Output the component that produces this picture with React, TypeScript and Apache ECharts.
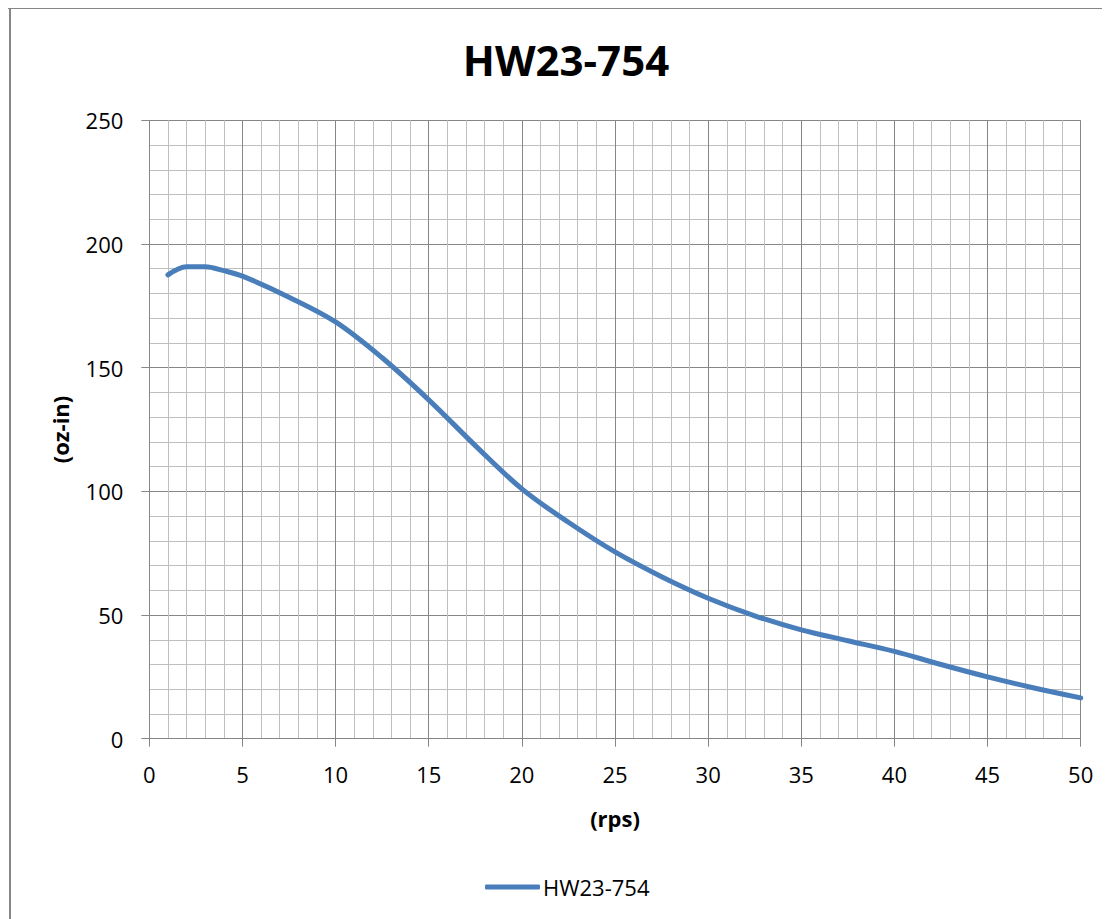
import React, { useEffect, useRef } from "react";
import * as echarts from "echarts";

const TITLE = "HW23-754";
const SERIES_NAME = "HW23-754";
const X_NAME = "(rps)";
const Y_NAME = "(oz-in)";
const SPEED = [1, 2, 3, 4, 5, 7.5, 10, 12.5, 15, 17.5, 20, 22.5, 25, 27.5, 30, 32.5, 35, 37.5, 40, 42.5, 45, 47.5, 50];
const TORQUE = [187.5, 190.8, 190.8, 189.2, 187, 178.5, 168.5, 154, 137, 118.5, 101, 87.5, 75.5, 65.5, 56.8, 49.7, 44, 39.6, 35.3, 30, 25, 20.5, 16.5];

const MAJOR = "#868686";
const MINOR = "#bfbfbf";
const FONT = "Open Sans";

export default function App() {
  const ref = useRef<HTMLDivElement>(null);
  useEffect(() => {
    if (!ref.current) return;
    document.documentElement.style.overflow = "hidden";
    const chart = echarts.init(ref.current, null, { renderer: "svg" });
    const data = SPEED.map((x, i) => [x, TORQUE[i]]);
    chart.setOption({
      animation: false,
      backgroundColor: "#ffffff",
      title: {
        text: TITLE,
        left: 553,
        top: 46,
        textAlign: "center",
        textVerticalAlign: "middle",
        textStyle: { fontFamily: FONT, fontWeight: "bold", fontSize: 42, color: "#000" },
      },
      graphic: [
        { type: "line", shape: { x1: 2, y1: 0, x2: 2, y2: 911 }, style: { stroke: MAJOR, lineWidth: 2 } },
        { type: "line", shape: { x1: 0, y1: 0.5, x2: 1102, y2: 0.5 }, style: { stroke: MAJOR, lineWidth: 1 } },
      ],
      legend: {
        left: 472,
        top: 863,
        icon: "roundRect",
        itemWidth: 55,
        itemHeight: 5,
        itemGap: 10,
        textStyle: { fontFamily: FONT, fontSize: 22, color: "#000", padding: [0, 0, 0, -2] },
        data: [SERIES_NAME],
      },
      grid: { left: 141.3, right: 29.3, top: 112.3, bottom: 180.3, containLabel: false, outerBoundsMode: "none" },
      xAxis: {
        type: "value",
        min: 0,
        max: 50,
        interval: 5,
        name: X_NAME,
        nameLocation: "middle",
        nameGap: 68,
        nameTextStyle: { fontFamily: FONT, fontWeight: "bold", fontSize: 22, color: "#000" },
        axisLine: { show: true, onZero: false, lineStyle: { color: MAJOR, width: 1 } },
        axisTick: { show: true, length: 8, lineStyle: { color: MAJOR } },
        axisLabel: { margin: 24, fontFamily: FONT, fontSize: 22, color: "#000" },
        splitLine: { show: true, lineStyle: { color: MAJOR, width: 1 } },
        minorTick: { show: false, splitNumber: 5 },
        minorSplitLine: { show: true, lineStyle: { color: MINOR, width: 1 } },
      },
      yAxis: {
        type: "value",
        min: 0,
        max: 250,
        interval: 50,
        name: Y_NAME,
        nameLocation: "middle",
        nameGap: 78,
        nameTextStyle: { fontFamily: FONT, fontWeight: "bold", fontSize: 22, color: "#000" },
        axisLine: { show: true, lineStyle: { color: MAJOR, width: 1 } },
        axisTick: { show: true, length: 8, lineStyle: { color: MAJOR } },
        axisLabel: { margin: 26, fontFamily: FONT, fontSize: 22, color: "#000" },
        splitLine: { show: true, lineStyle: { color: MAJOR, width: 1 } },
        minorTick: { show: false, splitNumber: 5 },
        minorSplitLine: { show: true, lineStyle: { color: MINOR, width: 1 } },
      },
      series: [
        {
          name: SERIES_NAME,
          type: "line",
          data,
          smooth: 0.35,
          showSymbol: false,
          symbol: "none",
          lineStyle: { color: "#4A7EBB", width: 5, cap: "round" },
          itemStyle: { color: "#4A7EBB" },
        },
      ],
    });
    return () => chart.dispose();
  }, []);
  return <div ref={ref} style={{ width: 1102, height: 911 }} />;
}
